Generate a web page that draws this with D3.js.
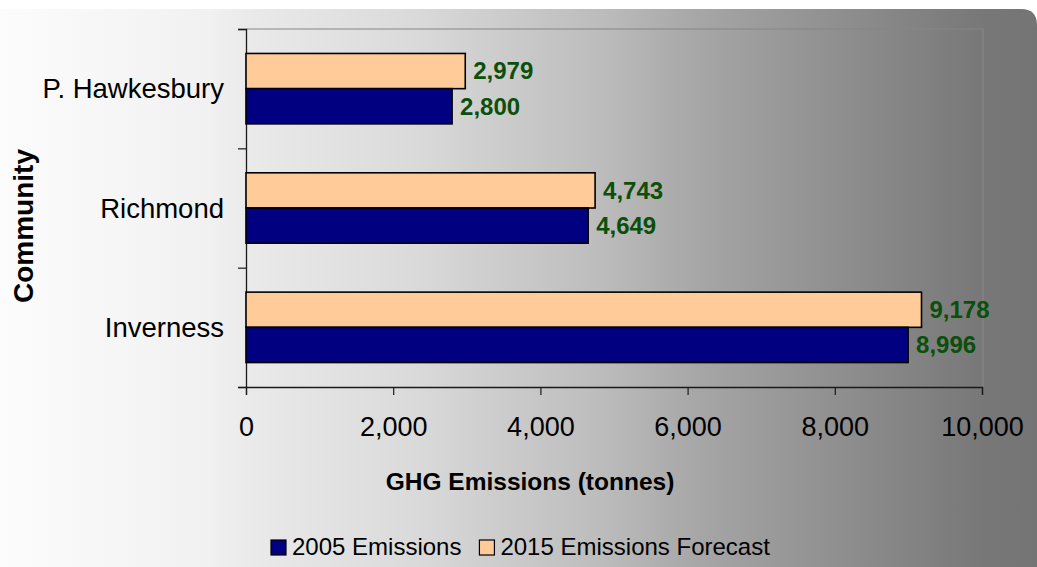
<!DOCTYPE html>
<html>
<head>
<meta charset="utf-8">
<script src="https://cdn.jsdelivr.net/npm/d3@7"></script>
<style>
  html, body { margin: 0; padding: 0; background: #ffffff; }
  svg { display: block; font-family: "Liberation Sans", Arial, sans-serif; }
</style>
</head>
<body>
<svg id="chart" width="1037" height="567"></svg>
<script>
// Community GHG emissions: 2005 actual vs 2015 forecast (tonnes)
const communities = ["P. Hawkesbury", "Richmond", "Inverness"];
const emissions2005 = [2800, 4649, 8996];
const forecast2015 = [2979, 4743, 9178];
const xTicks = [0, 2000, 4000, 6000, 8000, 10000];
const seriesNames = ["2015 Emissions Forecast", "2005 Emissions"];
const legendNames = ["2005 Emissions", "2015 Emissions Forecast"];
const seriesColors = { "2005 Emissions": "#000080", "2015 Emissions Forecast": "#FFCC99" };

const W = 1037, H = 567;
const plot = { left: 246, right: 982, top: 29, bottom: 387 };

const svg = d3.select("#chart");

// background gradient, light on the left, dark gray on the right
const defs = svg.append("defs");
const grad = defs.append("linearGradient")
  .attr("id", "bgGrad").attr("x1", 0).attr("x2", 1).attr("y1", 0).attr("y2", 0);
[[0, "#fcfcfc"], [0.2, "#f1f1f1"], [0.24, "#eaeaea"], [0.4, "#dadada"],
 [0.58, "#bcbcbc"], [0.675, "#a6a6a6"], [0.75, "#999999"], [0.945, "#787878"], [1, "#747474"]]
  .forEach(([o, c]) => grad.append("stop").attr("offset", o).attr("stop-color", c));

// chart area with a rounded top-right corner
const cornerR = 16, areaTop = 9;
svg.append("path")
  .attr("d", `M0,${areaTop} H${W - cornerR} Q${W},${areaTop} ${W},${areaTop + cornerR} V${H} H0 Z`)
  .attr("fill", "url(#bgGrad)");

// plot area frame (top and right)
svg.append("path")
  .attr("d", `M${plot.left},${plot.top} H${plot.right + 1} V${plot.bottom}`)
  .attr("fill", "none").attr("stroke", "#858585").attr("stroke-width", 1.2);

const x = d3.scaleLinear().domain([0, 10000]).range([plot.left, plot.right]);
const y0 = d3.scaleBand().domain(communities)
  .range([plot.top, plot.bottom]).paddingInner(0.41).paddingOuter(0.205);
const y1 = d3.scaleBand().domain(seriesNames).range([0, y0.bandwidth()]);

// category boundary ticks on the vertical axis
const yEdges = d3.scaleLinear().domain([0, communities.length]).range([plot.top, plot.bottom]);
svg.append("g")
  .attr("transform", `translate(${plot.left},0)`)
  .call(d3.axisLeft(yEdges).ticks(communities.length).tickSize(8).tickFormat(""))
  .call(g => g.select(".domain").attr("stroke", "#1a1a1a").attr("stroke-width", 1.3))
  .call(g => g.selectAll(".tick line").attr("stroke", "#1a1a1a").attr("stroke-width", 1.2));

// category labels
svg.append("g").selectAll("text")
  .data(communities).join("text")
  .attr("x", 224)
  .attr("y", d => y0(d) + y0.bandwidth() / 2)
  .attr("dy", "0.35em")
  .attr("text-anchor", "end")
  .attr("font-size", 27.5)
  .attr("fill", "#000")
  .text(d => d);

// horizontal axis
svg.append("g")
  .attr("transform", `translate(0,${plot.bottom})`)
  .call(d3.axisBottom(x).tickValues(xTicks).tickSize(8).tickPadding(22).tickFormat(d3.format(",")))
  .call(g => g.select(".domain").attr("stroke", "#1a1a1a").attr("stroke-width", 1.3))
  .call(g => g.selectAll(".tick line").attr("stroke", "#1a1a1a").attr("stroke-width", 1.2))
  .call(g => g.selectAll(".tick text")
    .attr("font-size", 27).attr("font-family", "Liberation Sans, Arial, sans-serif").attr("fill", "#000"));

// bars
const rows = communities.map((c, i) => ({
  community: c,
  values: [
    { series: "2015 Emissions Forecast", value: forecast2015[i] },
    { series: "2005 Emissions", value: emissions2005[i] }
  ]
}));

const groups = svg.append("g").selectAll("g")
  .data(rows).join("g")
  .attr("transform", d => `translate(0,${y0(d.community)})`);

groups.selectAll("rect")
  .data(d => d.values).join("rect")
  .attr("x", x(0))
  .attr("y", d => y1(d.series))
  .attr("width", d => x(d.value) - x(0))
  .attr("height", y1.bandwidth())
  .attr("fill", d => seriesColors[d.series])
  .attr("stroke", "#000")
  .attr("stroke-width", 1.6);

// value labels
groups.selectAll("text")
  .data(d => d.values).join("text")
  .attr("x", d => x(d.value) + 8)
  .attr("y", d => y1(d.series) + y1.bandwidth() / 2)
  .attr("dy", "0.35em")
  .attr("font-size", 24)
  .attr("font-weight", "bold")
  .attr("fill", "#0b4f0b")
  .text(d => d3.format(",")(d.value));

// axis titles
svg.append("text")
  .attr("transform", "translate(33,226) rotate(-90)")
  .attr("text-anchor", "middle")
  .attr("font-size", 28)
  .attr("font-weight", "bold")
  .text("Community");

svg.append("text")
  .attr("x", 530).attr("y", 490)
  .attr("text-anchor", "middle")
  .attr("font-size", 24.5)
  .attr("font-weight", "bold")
  .text("GHG Emissions (tonnes)");

// legend
const legend = svg.append("g").attr("transform", "translate(271,555)");
let lx = 0;
legendNames.forEach(name => {
  const item = legend.append("g").attr("transform", `translate(${lx},0)`);
  item.append("rect")
    .attr("x", 0).attr("y", -15).attr("width", 15).attr("height", 15)
    .attr("fill", seriesColors[name]).attr("stroke", "#000").attr("stroke-width", 1.2);
  const t = item.append("text")
    .attr("x", 21).attr("y", 0)
    .attr("font-size", 24)
    .attr("fill", "#000")
    .text(name);
  lx += 21 + t.node().getComputedTextLength() + 18;
});
</script>
</body>
</html>
